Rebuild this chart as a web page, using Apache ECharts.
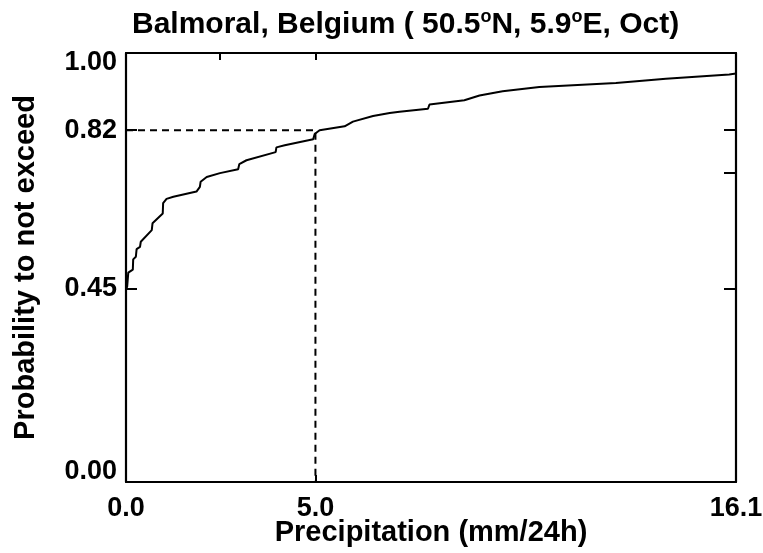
<!DOCTYPE html>
<html>
<head>
<meta charset="utf-8">
<script src="https://cdn.jsdelivr.net/npm/echarts@6/dist/echarts.min.js"></script>
<style>
  html, body { margin: 0; padding: 0; background: #fff; }
  #chart { width: 763px; height: 553px; }
</style>
</head>
<body>
<div id="chart"></div>
<script>
var precip = [0, 0.03, 0.06, 0.18, 0.19, 0.26, 0.28, 0.37, 0.39, 0.68, 0.70, 0.97, 0.98, 1.07, 1.25,
  1.86, 1.95, 1.97, 2.13, 2.48, 2.96, 2.99, 3.18, 3.95, 3.97, 4.19, 4.94, 4.98, 5.11, 5.77, 5.99,
  6.52, 6.96, 7.22, 7.97, 8.01, 8.93, 9.33, 9.94, 10.91, 12.93, 14.25, 15.92, 16.1];
var prob = [0.45, 0.455, 0.488, 0.495, 0.519, 0.525, 0.543, 0.548, 0.560, 0.587, 0.603, 0.626, 0.650, 0.660, 0.665,
  0.677, 0.688, 0.700, 0.711, 0.720, 0.729, 0.741, 0.750, 0.769, 0.780, 0.785, 0.799, 0.811, 0.820, 0.829, 0.840,
  0.853, 0.860, 0.863, 0.870, 0.880, 0.890, 0.901, 0.911, 0.921, 0.930, 0.940, 0.950, 0.952];

// dashed guide: precipitation 5.0 -> probability 0.82
var guideX = [0, 5.0, 5.0];
var guideY = [0.82, 0.82, 0];

var xLabels = [0, 5.0, 16.1];
var yLabels = [0, 0.45, 0.82, 1.0];
var topTicks = [2.48, 5.0];
var rightTicks = [0.45, 0.72, 0.82];

var FONT = 'Liberation Sans';

var curve = precip.map(function (x, i) { return [x, prob[i]]; });
var guide = guideX.map(function (x, i) { return [x, guideY[i]]; });

var myChart = echarts.init(document.getElementById('chart'));

var frame = { show: true, onZero: false, lineStyle: { color: '#000', width: 2.2 } };

myChart.setOption({
  animation: false,
  title: {
    text: 'Balmoral, Belgium ( 50.5{s|o}N, 5.9{s|o}E, Oct)',
    left: 127,
    top: 3,
    textStyle: {
      fontFamily: FONT, fontWeight: 'bold', fontSize: 30, color: '#000', lineHeight: 34,
      rich: {
        s: { fontFamily: FONT, fontWeight: 'bold', fontSize: 18, color: '#000', verticalAlign: 'top', lineHeight: 22 }
      }
    }
  },
  grid: { left: 126, right: 27, top: 53, bottom: 71, containLabel: false, outerBoundsMode: 'none' },
  xAxis: [{
    type: 'value', min: 0, max: 16.1, position: 'bottom',
    name: 'Precipitation (mm/24h)', nameLocation: 'middle', nameGap: 36, nameMoveOverlap: false,
    nameTextStyle: { fontFamily: FONT, fontWeight: 'bold', fontSize: 29, color: '#000' },
    axisLine: frame,
    axisTick: { show: true, inside: true, length: 7, customValues: xLabels, lineStyle: { color: '#000', width: 2 } },
    axisLabel: {
      customValues: xLabels, margin: 13,
      fontFamily: FONT, fontWeight: 'bold', fontSize: 27, color: '#000',
      formatter: function (v) { return v.toFixed(1); }
    },
    splitLine: { show: false }
  }, {
    type: 'value', min: 0, max: 16.1, position: 'top',
    axisLine: frame,
    axisTick: { show: true, inside: true, length: 7, customValues: topTicks, lineStyle: { color: '#000', width: 2 } },
    axisLabel: { show: false },
    splitLine: { show: false }
  }],
  yAxis: [{
    type: 'value', min: 0, max: 1, position: 'left',
    name: 'Probability to not exceed', nameLocation: 'middle', nameGap: 86, nameMoveOverlap: false,
    nameTextStyle: { fontFamily: FONT, fontWeight: 'bold', fontSize: 29, color: '#000' },
    axisLine: frame,
    axisTick: { show: true, inside: true, length: 11, customValues: yLabels, lineStyle: { color: '#000', width: 2 } },
    axisLabel: {
      customValues: yLabels, margin: 9, lineHeight: 20,
      fontFamily: FONT, fontWeight: 'bold', fontSize: 27, color: '#000',
      verticalAlignMinLabel: 'bottom', verticalAlignMaxLabel: 'top',
      formatter: function (v) { return v.toFixed(2); }
    },
    splitLine: { show: false }
  }, {
    type: 'value', min: 0, max: 1, position: 'right',
    axisLine: frame,
    axisTick: { show: true, inside: true, length: 12, customValues: rightTicks, lineStyle: { color: '#000', width: 2 } },
    axisLabel: { show: false },
    splitLine: { show: false }
  }],
  series: [{
    type: 'line', data: guide, symbol: 'none', silent: true,
    lineStyle: { color: '#000', width: 2, type: [7, 5] }
  }, {
    type: 'line', data: curve, symbol: 'none', silent: true,
    lineStyle: { color: '#000', width: 2 }
  }]
});
</script>
</body>
</html>
